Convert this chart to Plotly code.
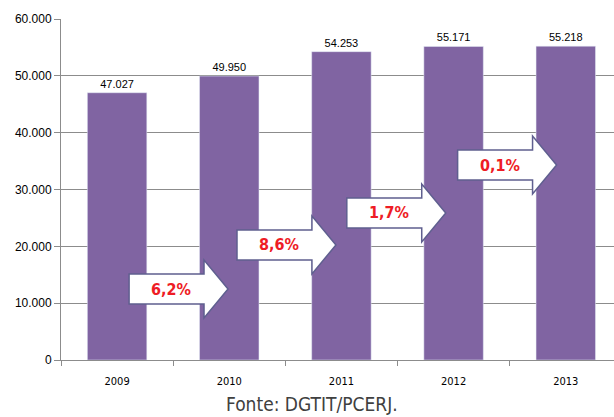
import plotly.graph_objects as go

years = ["2009", "2010", "2011", "2012", "2013"]
values = [47027, 49950, 54253, 55171, 55218]
growth_labels = ["6,2%", "8,6%", "1,7%", "0,1%"]
# arrow anchors: start (category index units) and center level (data units)
arrow_start = [0.107, 1.069, 2.048, 3.036]
arrow_level = [12490, 20240, 25870, 34310]

BAR = "#8064a2"
GRID = "#8c8c8c"
COND = "DejaVu Sans Condensed, Liberation Sans Narrow, Arial Narrow, sans-serif"

fig = go.Figure()
fig.add_trace(go.Bar(
    x=years, y=values, marker_color=BAR, width=0.53,
    text=values, texttemplate="%{y:,}", textposition="outside",
    textfont=dict(family="Liberation Sans, Arial, sans-serif", size=11, color="#000"),
    cliponaxis=False, hoverinfo="skip",
))

body_len, head_len = 0.668, 0.214
body_h, head_h = 2640, 5100
for lab, xs, yc in zip(growth_labels, arrow_start, arrow_level):
    xb = xs + body_len
    xt = xb + head_len
    path = (f"M {xs},{yc-body_h} L {xb},{yc-body_h} L {xb},{yc-head_h} L {xt},{yc} "
            f"L {xb},{yc+head_h} L {xb},{yc+body_h} L {xs},{yc+body_h} Z")
    fig.add_shape(type="path", path=path, xref="x", yref="y",
                  fillcolor="white", line=dict(color="#5f5f8f", width=1.5), layer="above")
    fig.add_annotation(x=xs + body_len / 2 + 0.04, y=yc, xref="x", yref="y",
                       text=lab, showarrow=False,
                       font=dict(family=COND, size=16, weight=600, color="#ee1c25"))

fig.add_annotation(x=0.454, y=-0.13, xref="paper", yref="paper", text="Fonte: DGTIT/PCERJ.",
                   showarrow=False, yanchor="middle",
                   font=dict(family=COND, size=19, color="#404040"))

fig.update_layout(
    width=614, height=417,
    margin=dict(l=61, r=0, t=19, b=57),
    plot_bgcolor="white", paper_bgcolor="white",
    separators=",.",
    showlegend=False,
    xaxis=dict(type="category", range=[-0.5, 4.43], showline=True, linecolor=GRID,
               linewidth=1, ticks="outside", tickson="boundaries", ticklen=5,
               tickcolor=GRID, showgrid=False, ticklabelstandoff=11,
               tickfont=dict(family=COND, size=11, color="#000")),
    yaxis=dict(range=[0, 60000], dtick=10000, tickformat=",", showgrid=True,
               gridcolor=GRID, gridwidth=1, showline=True, linecolor=GRID, linewidth=1,
               ticks="outside", ticklen=6, tickcolor=GRID, zeroline=False,
               tickfont=dict(family="Liberation Sans, Arial, sans-serif", size=12, color="#000")),
)

fig.write_html("out.html", config={"displayModeBar": False},
               post_script="document.body.style.margin='0';document.body.style.overflow='hidden';")
